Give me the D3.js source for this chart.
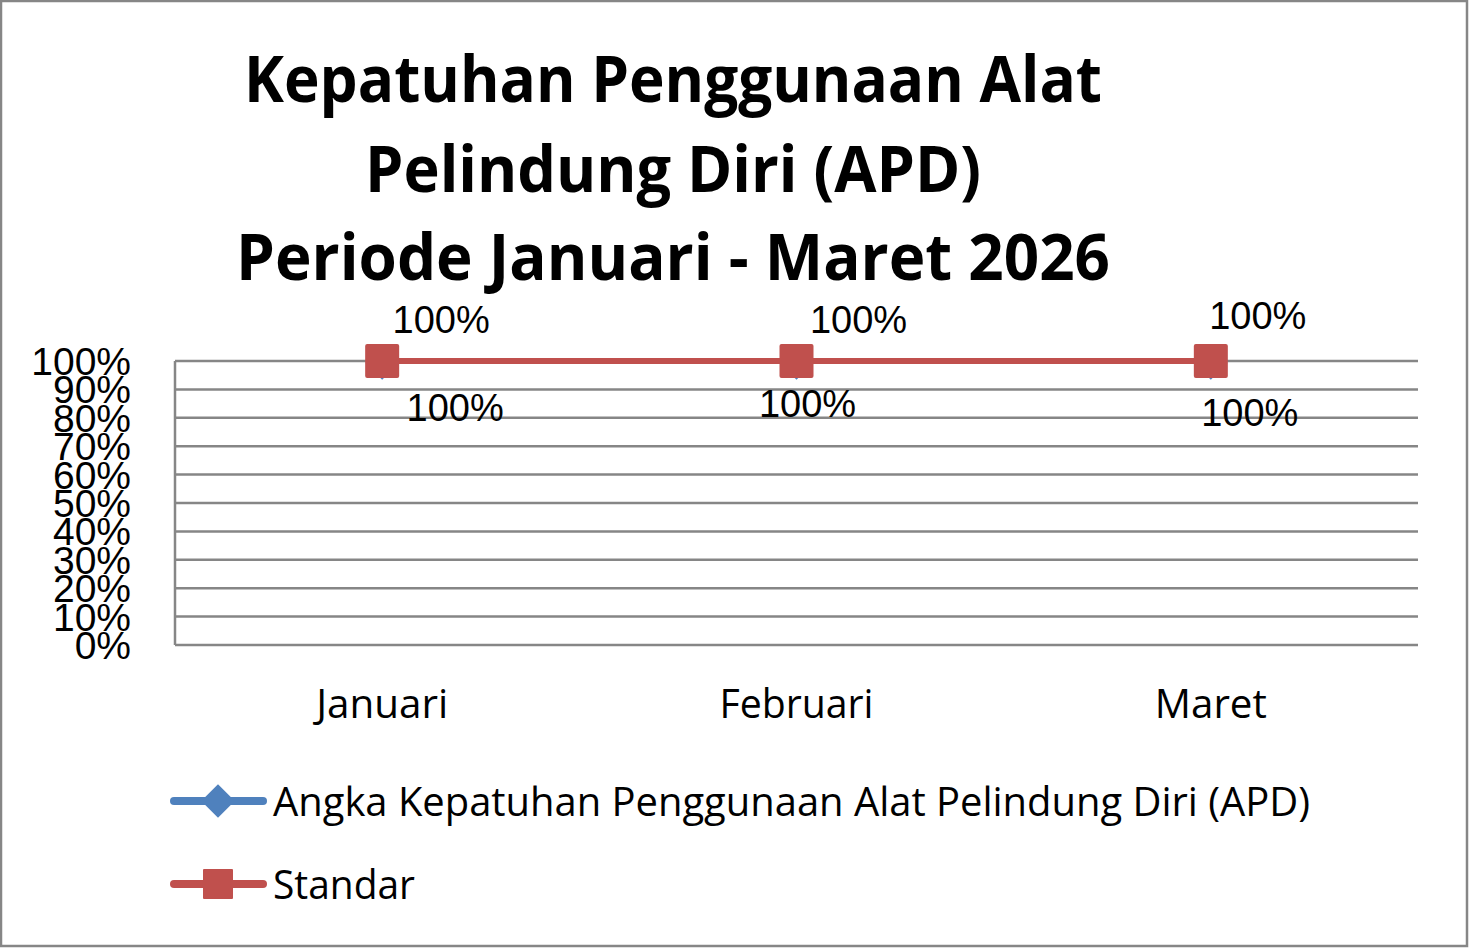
<!DOCTYPE html>
<html><head><meta charset="utf-8">
<script src="https://cdn.jsdelivr.net/npm/d3@7"></script>
<style>body{margin:0;background:#fff}svg{display:block}</style>
</head><body><svg id="c" width="1470" height="948"></svg>
<script>
const titleLines = ["Kepatuhan Penggunaan Alat", "Pelindung Diri (APD)", "Periode Januari - Maret 2026"];
const categories = ["Januari", "Februari", "Maret"];
const apdValues = [1.00, 1.00, 1.00];
const standarValues = [1.00, 1.00, 1.00];
const seriesNames = ["Angka Kepatuhan Penggunaan Alat Pelindung Diri (APD)", "Standar"];
const yTicks = [0, 0.1, 0.2, 0.3, 0.4, 0.5, 0.6, 0.7, 0.8, 0.9, 1.0];

const svg = d3.select("#c");
const W = 1470, H = 948;
const m = {left: 175, right: 1418, top: 361, bottom: 645};
const blue = "#4F81BD", red = "#C0504D", grid = "#868686";

svg.append("rect").attr("x", 1).attr("y", 1).attr("width", W - 4).attr("height", H - 3)
  .attr("fill", "#fff").attr("stroke", grid).attr("stroke-width", 2.5);

function fit(sel, w) {
  sel.attr("textLength", w).attr("lengthAdjust", "spacingAndGlyphs");
}

// Title
const titleY = [102, 192, 280];
const titleW = [858, 616, 874];
const titleG = svg.append("g");
titleLines.forEach((t, i) => {
  const tx = titleG.append("text").attr("x", 673).attr("y", titleY[i]).attr("text-anchor", "middle")
    .attr("font-family", "Open Sans, sans-serif").attr("font-weight", "bold").attr("font-size", 64)
    .attr("fill", "#000").text(t);
  fit(tx, titleW[i]);
});

const x = d3.scaleBand().domain(categories).range([m.left, m.right]);
const y = d3.scaleLinear().domain([0, 1]).range([m.bottom, m.top]);

// gridlines
svg.append("g").selectAll("line").data(yTicks).join("line")
  .attr("x1", m.left).attr("x2", m.right)
  .attr("y1", d => y(d)).attr("y2", d => y(d))
  .attr("stroke", grid).attr("stroke-width", 2.5);
svg.append("line").attr("x1", m.left).attr("x2", m.left).attr("y1", m.top).attr("y2", m.bottom)
  .attr("stroke", grid).attr("stroke-width", 2.5);

// y labels
svg.append("g").selectAll("text").data(yTicks).join("text")
  .attr("x", 131).attr("y", d => y(d) + 14)
  .attr("text-anchor", "end")
  .attr("font-family", "Liberation Sans, Arial, sans-serif").attr("font-size", 39)
  .attr("fill", "#000").text(d3.format(".0%"));

// x labels
const xLabelW = [132, 154, 112];
categories.forEach((c, i) => {
  const t = svg.append("text").attr("x", x(c) + x.bandwidth() / 2).attr("y", 718)
    .attr("text-anchor", "middle").attr("font-family", "Open Sans, sans-serif").attr("font-size", 40)
    .attr("fill", "#000").text(c);
  fit(t, xLabelW[i]);
});

const cx = d => x(d) + x.bandwidth() / 2;
const line = d3.line().x((d, i) => cx(categories[i])).y(d => y(d));
const diamondPath = d3.symbol().type(d3.symbolSquare);

// APD series (blue, beneath)
svg.append("path").datum(apdValues).attr("d", line).attr("fill", "none")
  .attr("stroke", blue).attr("stroke-width", 6).attr("stroke-linecap", "round");
svg.append("g").selectAll("path").data(apdValues).join("path")
  .attr("transform", (d, i) => `translate(${cx(categories[i])},${y(d) + 2}) rotate(45)`)
  .attr("d", diamondPath.size(560)).attr("fill", blue);

// Standar series (red)
svg.append("path").datum(standarValues).attr("d", line).attr("fill", "none")
  .attr("stroke", red).attr("stroke-width", 6).attr("stroke-linecap", "round");
svg.append("g").selectAll("rect").data(standarValues).join("rect")
  .attr("x", (d, i) => cx(categories[i]) - 17).attr("y", d => y(d) - 17)
  .attr("width", 34).attr("height", 34).attr("rx", 2).attr("fill", red);

// data labels
const fmt = d3.format(".0%");
const aboveDx = [59, 62, 47], aboveDy = [-28, -28, -32];
const belowDx = [73, 11, 39], belowDy = [60, 56, 65];
svg.append("g").selectAll("text").data(standarValues).join("text")
  .attr("x", (d, i) => cx(categories[i]) + aboveDx[i]).attr("y", (d, i) => y(d) + aboveDy[i])
  .attr("text-anchor", "middle").attr("font-family", "Liberation Sans, Arial, sans-serif")
  .attr("font-size", 38).attr("fill", "#000").text(fmt);
svg.append("g").selectAll("text").data(apdValues).join("text")
  .attr("x", (d, i) => cx(categories[i]) + belowDx[i]).attr("y", (d, i) => y(d) + belowDy[i])
  .attr("text-anchor", "middle").attr("font-family", "Liberation Sans, Arial, sans-serif")
  .attr("font-size", 38).attr("fill", "#000").text(fmt);

// legend
const legY = [801, 884];
const legColors = [blue, red];
const legTextW = [1037, 142];
const lg = svg.append("g");
seriesNames.forEach((n, i) => {
  lg.append("line").attr("x1", 174).attr("x2", 263).attr("y1", legY[i]).attr("y2", legY[i])
    .attr("stroke", legColors[i]).attr("stroke-width", 8).attr("stroke-linecap", "round");
  if (i === 0) {
    lg.append("path").attr("transform", `translate(218,${legY[i]}) rotate(45)`)
      .attr("d", diamondPath.size(560)).attr("fill", blue);
  } else {
    lg.append("rect").attr("x", 203).attr("y", legY[i] - 15).attr("width", 30).attr("height", 30)
      .attr("rx", 1).attr("fill", red);
  }
  const t = lg.append("text").attr("x", 273).attr("y", legY[i] + 15)
    .attr("font-family", "Open Sans, sans-serif").attr("font-size", 40).attr("fill", "#000").text(n);
  fit(t, legTextW[i]);
});
</script></body></html>
